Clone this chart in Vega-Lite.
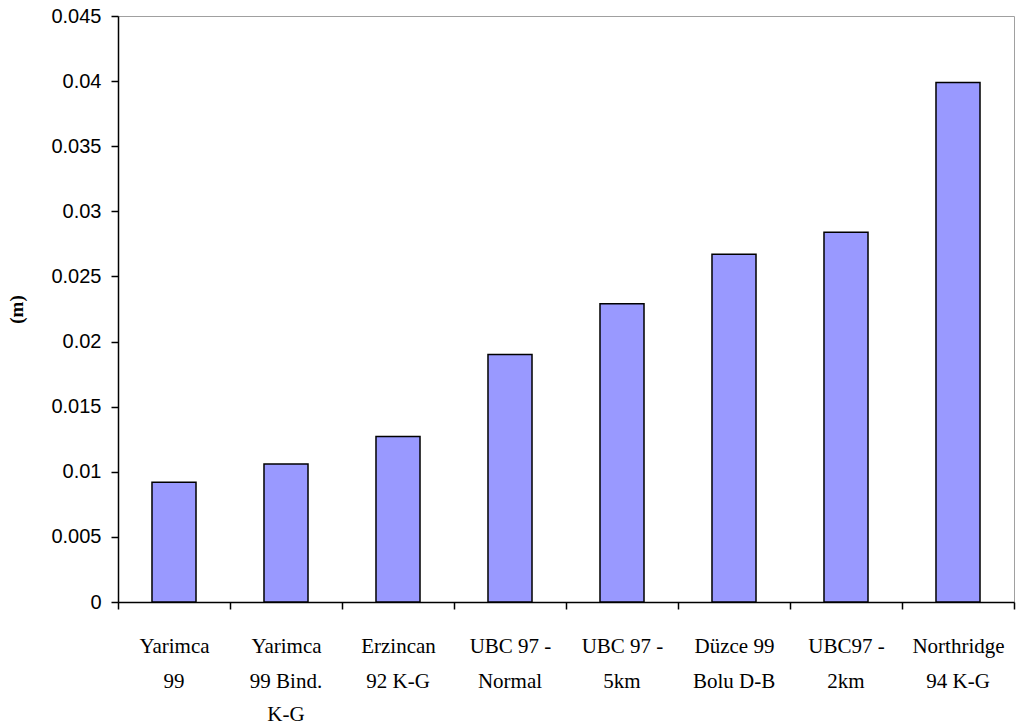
{
  "$schema": "https://vega.github.io/schema/vega-lite/v6.json",
  "width": 896,
  "height": 586,
  "autosize": {"type": "none"},
  "padding": {"left": 118, "top": 16, "right": 2, "bottom": 125},
  "background": "white",
  "config": {
    "view": {"stroke": "#a0a0a0", "strokeWidth": 1},
    "axis": {"grid": false, "domainColor": "black", "tickColor": "black", "labelColor": "black", "titleColor": "black"}
  },
  "data": {
    "values": [
      {"event": "Yarimca|99", "value": 0.0092},
      {"event": "Yarimca|99 Bind.|K-G", "value": 0.0106},
      {"event": "Erzincan|92 K-G", "value": 0.0127},
      {"event": "UBC 97 -|Normal", "value": 0.0190},
      {"event": "UBC 97 -|5km", "value": 0.0229},
      {"event": "Düzce 99|Bolu D-B", "value": 0.0267},
      {"event": "UBC97 -|2km", "value": 0.0284},
      {"event": "Northridge|94 K-G", "value": 0.0399}
    ]
  },
  "resolve": {"axis": {"x": "independent"}},
  "layer": [
    {
      "mark": {"type": "bar", "fill": "#9999FF", "stroke": "black", "strokeWidth": 1.5, "width": {"band": 0.393}},
      "encoding": {
        "x": {
          "field": "event", "type": "nominal", "sort": null,
          "scale": {"paddingInner": 0, "paddingOuter": 0},
          "axis": {
            "orient": "bottom", "title": null, "labelAngle": 0, "tickBand": "extent", "tickSize": 7,
            "domainWidth": 1.5, "tickWidth": 1.5,
            "labelExpr": "datum.value ? split(datum.value, '|')[0] : ''",
            "labelFont": "Liberation Serif", "labelFontSize": 21,
            "labelPadding": 26, "labelBaseline": "top",
            "encode": {"labels": {"update": {"font": {"value": "Liberation Serif"}}}}
          }
        },
        "y": {
          "field": "value", "type": "quantitative",
          "scale": {"domain": [0, 0.045], "nice": false},
          "axis": {
            "title": "(m)", "titleFont": "Liberation Serif", "titleFontWeight": "bold", "titleFontSize": 19,
            "titlePadding": 24,
            "values": [0, 0.005, 0.01, 0.015, 0.02, 0.025, 0.03, 0.035, 0.04, 0.045],
            "format": "~g",
            "labelFontSize": 20, "labelPadding": 10,
            "tickSize": 7, "domainWidth": 1.5, "tickWidth": 1.5,
            "encode": {"labels": {"update": {"font": {"value": "Liberation Sans"}}}}
          }
        }
      }
    },
    {
      "mark": {"type": "bar", "opacity": 0, "width": {"band": 0.393}},
      "encoding": {
        "x": {
          "field": "event", "type": "nominal", "sort": null,
          "axis": {
            "orient": "bottom", "title": null, "labelAngle": 0, "domain": false, "ticks": false,
            "labelExpr": "datum.value && length(split(datum.value, '|')) > 1 ? split(datum.value, '|')[1] : ''",
            "labelFont": "Liberation Serif", "labelFontSize": 21,
            "labelPadding": 68, "labelBaseline": "top",
            "encode": {"labels": {"update": {"font": {"value": "Liberation Serif"}}}}
          }
        }
      }
    },
    {
      "mark": {"type": "bar", "opacity": 0, "width": {"band": 0.393}},
      "encoding": {
        "x": {
          "field": "event", "type": "nominal", "sort": null,
          "axis": {
            "orient": "bottom", "title": null, "labelAngle": 0, "domain": false, "ticks": false,
            "labelExpr": "datum.value && length(split(datum.value, '|')) > 2 ? split(datum.value, '|')[2] : ''",
            "labelFont": "Liberation Serif", "labelFontSize": 21,
            "labelPadding": 101, "labelBaseline": "top",
            "encode": {"labels": {"update": {"font": {"value": "Liberation Serif"}}}}
          }
        }
      }
    }
  ]
}
